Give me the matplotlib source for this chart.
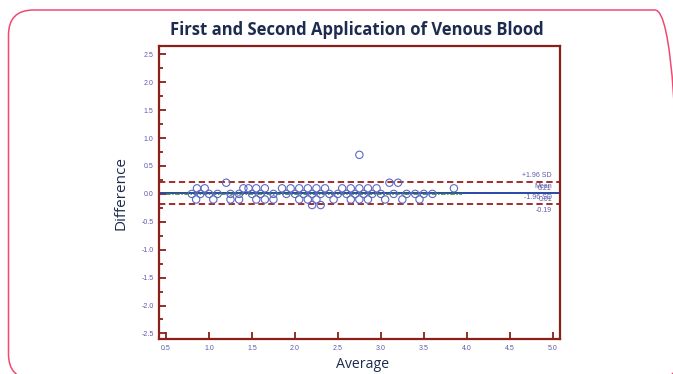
import matplotlib
matplotlib.use("Agg")
import matplotlib.pyplot as plt
from matplotlib.patches import FancyBboxPatch
from matplotlib.ticker import MultipleLocator, FormatStrFormatter

plt.rcParams['axes.unicode_minus'] = False

# ---- data ----
avg_p07 = [2.75]
avg_p02 = [1.20, 3.10, 3.20]
avg_p01 = [0.86, 0.95, 1.40, 1.46, 1.55, 1.65, 1.85, 1.95, 2.05, 2.15, 2.25, 2.35,
           2.55, 2.65, 2.75, 2.85, 2.95, 3.85]
avg_0 = [0.80, 0.90, 1.00, 1.10, 1.25, 1.35, 1.50, 1.60, 1.75, 1.90, 2.00, 2.10,
         2.20, 2.30, 2.40, 2.50, 2.60, 2.70, 2.80, 2.90, 3.00, 3.15, 3.30, 3.40,
         3.50, 3.60]
avg_m01 = [0.85, 1.05, 1.25, 1.35, 1.55, 1.65, 1.75, 2.05, 2.15, 2.25, 2.45, 2.65,
           2.75, 2.85, 3.05, 3.25, 3.45]
avg_m02 = [2.20, 2.30]

averages = avg_p07 + avg_p02 + avg_p01 + avg_0 + avg_m01 + avg_m02
differences = ([0.7] * len(avg_p07) + [0.2] * len(avg_p02) + [0.1] * len(avg_p01)
               + [0.0] * len(avg_0) + [-0.1] * len(avg_m01) + [-0.2] * len(avg_m02))

mean_diff = 0.01
upper_loa = 0.21
lower_loa = -0.19
green_line_x = [0.5, 3.95]
green_line_y = [0.005, 0.005]

title = "First and Second Application of Venous Blood"
xlabel = "Average"
ylabel = "Difference"

# ---- styles ----
navy = "#1d2b4f"
tick_col = "#5b5ba8"
spine_col = "#8b1f1a"
marker_col = "#5c68c4"

fig = plt.figure(figsize=(6.73, 3.74), dpi=100)
fig.patch.set_facecolor("white")

# outer rounded frame
frame = FancyBboxPatch((0.085, -0.05), 6.715, 3.69,
                       boxstyle="round,pad=0,rounding_size=0.25",
                       transform=fig.dpi_scale_trans, fill=False,
                       edgecolor="#ee4a74", linewidth=1.1, clip_on=False)
fig.add_artist(frame)

ax = fig.add_axes([159 / 673, 1 - 339 / 374, (560 - 159) / 673, (339 - 46) / 374])
ax.set_xlim(0.418, 5.085)
ax.set_ylim(-2.60, 2.65)

ax.scatter(averages, differences, s=28, facecolors="none", edgecolors=marker_col,
           linewidths=0.8, zorder=3)

ax.axhline(upper_loa, color="#9b1c1c", linestyle=(0, (3.5, 2)), linewidth=1.3, zorder=2)
ax.axhline(lower_loa, color="#9b1c1c", linestyle=(0, (3.5, 2)), linewidth=1.3, zorder=2)
ax.axhline(mean_diff, color="#2a46a8", linewidth=1.4, zorder=2)
ax.plot(green_line_x, green_line_y, color="#2f7a3a", linestyle=(0, (3, 1, 1, 1)),
        linewidth=1.1, zorder=2.5)

lab_kw = dict(transform=ax.get_yaxis_transform(), ha="right", fontsize=5,
              color=tick_col, family="Liberation Sans")
xr = 0.98
ax.text(xr, upper_loa + 0.06, "+1.96 SD", va="bottom", **lab_kw)
ax.text(xr, upper_loa - 0.05, f"{upper_loa:.2f}", va="top", **lab_kw)
ax.text(xr, mean_diff + 0.06, "Mean", va="bottom", **lab_kw)
ax.text(xr, mean_diff - 0.05, f"{mean_diff:.2f}", va="top", **lab_kw)
ax.text(xr, lower_loa + 0.06, "-1.96 SD", va="bottom", **lab_kw)
ax.text(xr, lower_loa - 0.05, f"{lower_loa:.2f}", va="top", **lab_kw)

for s in ax.spines.values():
    s.set_color(spine_col)
    s.set_linewidth(1.6)

ax.xaxis.set_major_locator(MultipleLocator(0.5))
ax.yaxis.set_major_locator(MultipleLocator(0.5))
ax.yaxis.set_minor_locator(MultipleLocator(0.25))
ax.xaxis.set_major_formatter(FormatStrFormatter("%.1f"))
ax.yaxis.set_major_formatter(FormatStrFormatter("%.1f"))
ax.tick_params(axis="both", which="both", direction="in", color=spine_col,
               labelcolor=tick_col, labelsize=5, width=1.3)
ax.tick_params(axis="both", which="major", length=5, pad=4)
ax.tick_params(axis="y", which="minor", length=3)
for lab in ax.get_xticklabels() + ax.get_yticklabels():
    lab.set_family("Liberation Sans")

fig.text(357 / 673, 1 - 30 / 374, title, ha="center", va="center",
         fontsize=12, fontweight="bold", color=navy, family="Open Sans")
fig.text(363 / 673, 1 - 364 / 374, xlabel, ha="center", va="center",
         fontsize=10.2, color=navy, family="Open Sans")
fig.text(121 / 673, 1 - 193 / 374, ylabel, ha="center", va="center", rotation=90,
         fontsize=11, color=navy, family="Open Sans")

fig.savefig("out.png", dpi=100)
